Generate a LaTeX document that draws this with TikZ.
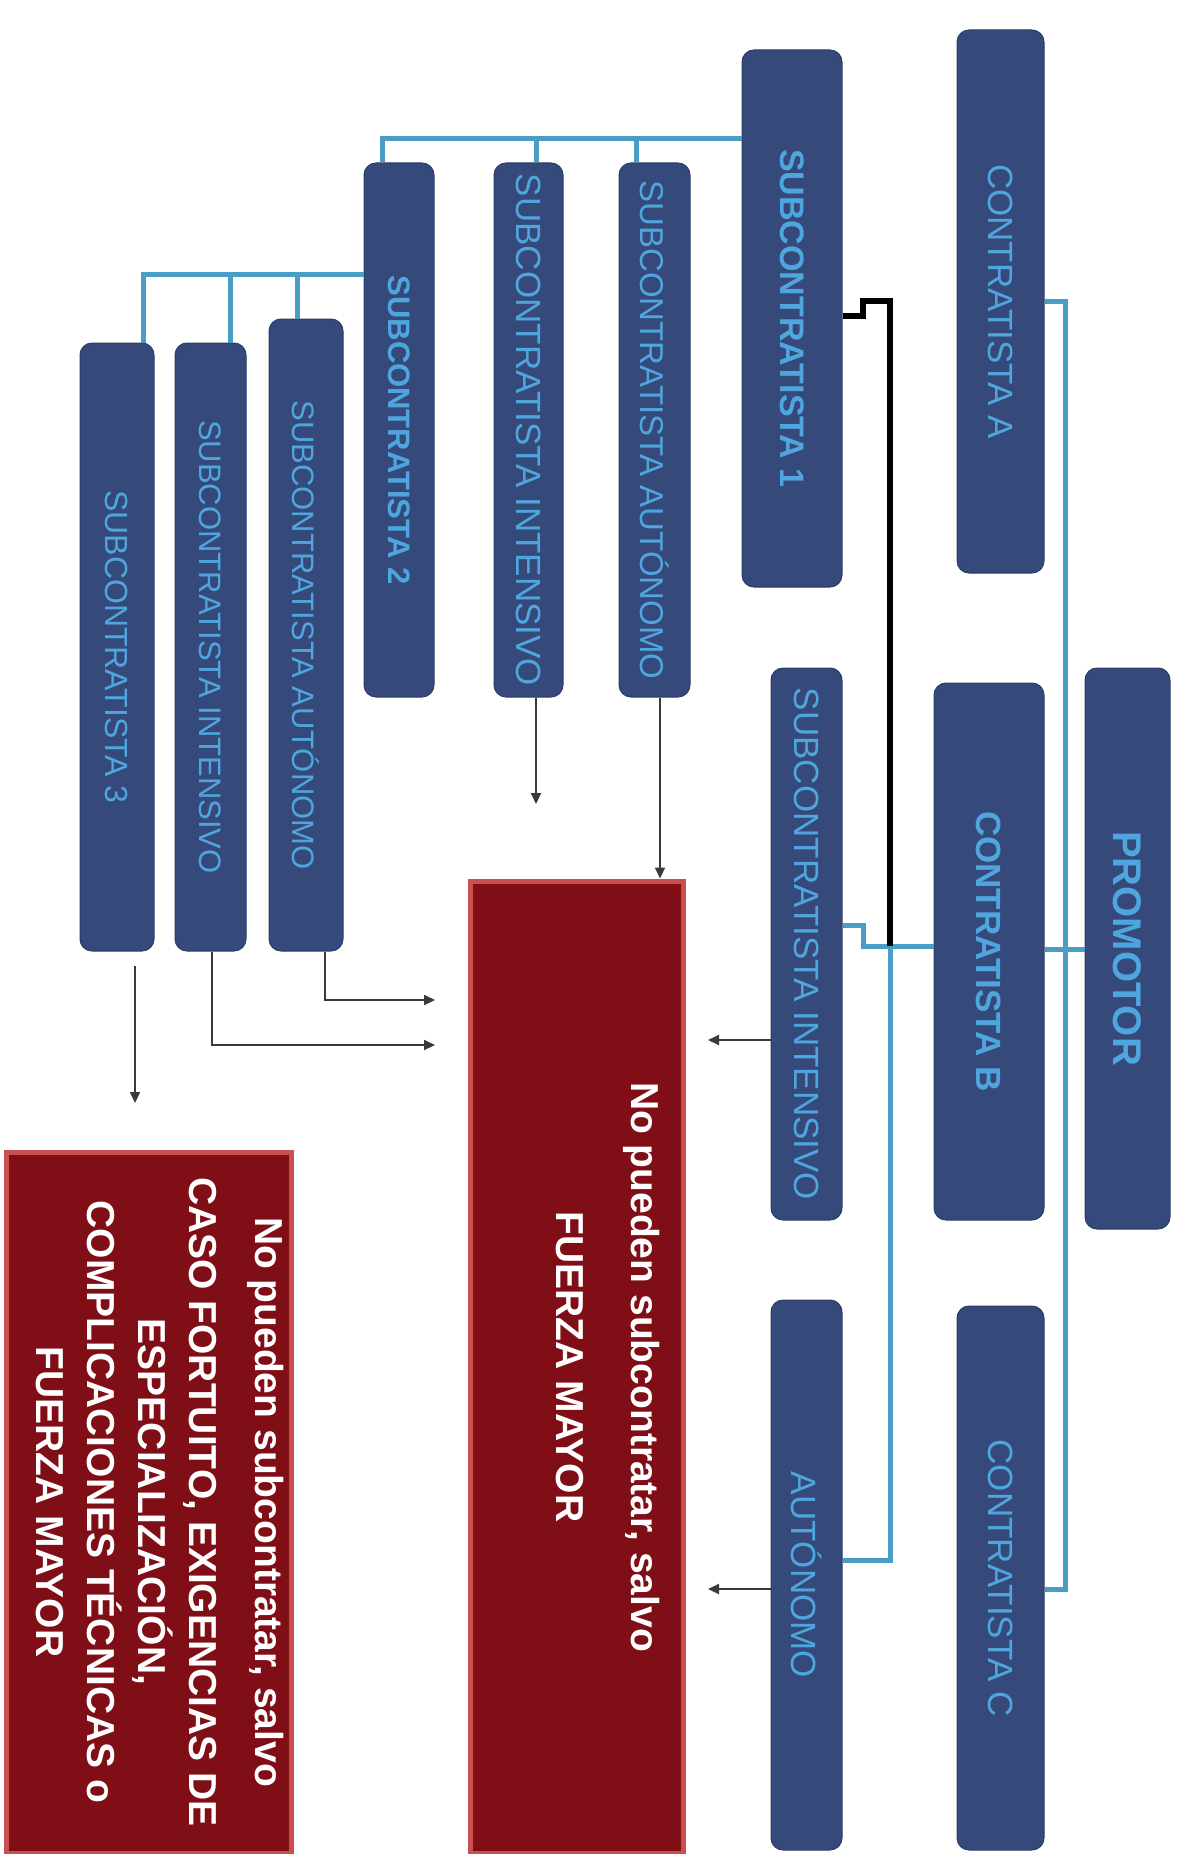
\documentclass[tikz,border=0pt]{standalone}
\usepackage{fontspec}
\setmainfont{Liberation Sans}
\usetikzlibrary{arrows.meta}
\definecolor{boxblue}{HTML}{354A7B}
\definecolor{boxedge}{HTML}{2A3C68}
\definecolor{txtblue}{HTML}{4FA6DE}
\definecolor{linkblue}{HTML}{4A9DC5}
\definecolor{redfill}{HTML}{800E17}
\definecolor{rededge}{HTML}{C9504E}
\definecolor{arrowgray}{HTML}{3A3A3A}
\tikzset{
  bbox/.style={rectangle, rounded corners=12pt, fill=boxblue, draw=boxedge, line width=1pt, inner sep=0pt, text=txtblue},
  rbox/.style={rectangle, fill=redfill, draw=rededge, line width=5pt, inner sep=0pt},
  link/.style={draw=linkblue, line width=5pt},
  blink/.style={draw=black, line width=6pt},
  arr/.style={draw=arrowgray, line width=2pt, -{Triangle[length=11pt,width=10pt]}},
  rtext/.style={text=white, align=center, rotate=-90, inner sep=0pt},
  fA/.style={font=\fontsize{35}{42}\selectfont},
  fAb/.style={font=\fontsize{35}{42}\selectfont\bfseries},
  fC/.style={font=\fontsize{31}{38}\selectfont},
}
\begin{document}
\begin{tikzpicture}[x=1pt,y=-1pt]
\useasboundingbox (0,0) rectangle (1182,1854);
% right column
\node[bbox, fA, minimum width=87, minimum height=543] (ca) at (1000.5,301.5) {\rotatebox{-90}{CONTRATISTA A}};
\node[bbox, fAb, minimum width=110, minimum height=537] (cb) at (989,951.5) {\rotatebox{-90}{CONTRATISTA B}};
\node[bbox, fA, minimum width=87, minimum height=544] (cc) at (1000.5,1578) {\rotatebox{-90}{CONTRATISTA C}};
\node[bbox, font=\fontsize{40}{48}\selectfont\bfseries, minimum width=85, minimum height=561] (prom) at (1127.5,948.5) {\rotatebox{-90}{PROMOTOR}};
% second column
\node[bbox, font=\fontsize{34}{40}\selectfont\bfseries, minimum width=100, minimum height=537] (s1) at (792,318.5) {\rotatebox{-90}{SUBCONTRATISTA 1}};
\node[bbox, fA, minimum width=71, minimum height=552] (si2) at (806.5,944) {\rotatebox{-90}{SUBCONTRATISTA INTENSIVO}};
\node[bbox, fA, minimum width=71, minimum height=550] (aut) at (806.5,1575) {\rotatebox{-90}{AUTÓNOMO}};
% third column
\node[bbox, font=\fontsize{33}{40}\selectfont, minimum width=71, minimum height=534] (sa3) at (654.5,430) {\rotatebox{-90}{SUBCONTRATISTA AUTÓNOMO}};
\node[bbox, fA, minimum width=69, minimum height=534] (si3) at (528.5,430) {\rotatebox{-90}{SUBCONTRATISTA INTENSIVO}};
\node[bbox, font=\fontsize{31}{38}\selectfont\bfseries, minimum width=70, minimum height=534] (s2) at (399,430) {\rotatebox{-90}{SUBCONTRATISTA 2}};
% fourth column
\node[bbox, fC, minimum width=74, minimum height=632] (sa4) at (306,635) {\rotatebox{-90}{SUBCONTRATISTA AUTÓNOMO}};
\node[bbox, fC, minimum width=71, minimum height=608] (si4) at (210.5,647) {\rotatebox{-90}{SUBCONTRATISTA INTENSIVO}};
\node[bbox, font=\fontsize{32}{38}\selectfont, minimum width=74, minimum height=608] (s3) at (117,647) {\rotatebox{-90}{SUBCONTRATISTA 3}};
% red boxes
\node[rbox, minimum width=213, minimum height=972] (r1) at (576.5,1367) {};
\node[rtext, font=\fontsize{39}{46}\selectfont\bfseries] (r1t) at (608,1367) {No pueden subcontratar, salvo\\[29pt]FUERZA MAYOR};
\node[rbox, minimum width=285, minimum height=701] (r2) at (148.5,1502.5) {};
\node[rtext, font=\fontsize{39}{51}\selectfont\bfseries] (r2t) at (160,1502) {No pueden subcontratar, salvo\\[15pt]CASO FORTUITO, EXIGENCIAS DE\\ESPECIALIZACIÓN,\\COMPLICACIONES TÉCNICAS o\\FUERZA MAYOR};
% coordinates
\coordinate (busT) at (1065,301);
\coordinate (busB) at (1065,1589);
\coordinate (kB) at (890,946);
\coordinate (kS) at (863,946);
\coordinate (kS2) at (863,925);
\coordinate (kT) at (890,301);
\coordinate (kT2) at (863,301);
\coordinate (kT3) at (863,316);
\coordinate (kA) at (890,1560);
\coordinate (t1) at (382,139);
\coordinate (t2) at (143,274);
\coordinate (e1) at (536,804);
\coordinate (e2a) at (325,1000);
\coordinate (e2) at (435,1000);
\coordinate (e3a) at (212,1045);
\coordinate (e3) at (435,1045);
\coordinate (e4) at (135,1103);
\coordinate (e5) at (708,1040);
\coordinate (e6) at (708,1589);
% blue links: promotor
\draw[link] (ca.east |- busT) -- (busT) -- (busB) -- (cc.east |- busB);
\draw[link] (prom.west |- 0,949) -- (cb.east |- 0,949);
% contratista B links
\draw[link] (cb.west |- kB) -- (kS) -- (kS2) -- (si2.east |- kS2);
\draw[link] (kB) -- (kA) -- (aut.east |- kA);
\draw[blink] (kB) -- (kT) -- (kT2) -- (kT3) -- (s1.east |- kT3);
% subcontratista 1
\draw[link] (s1.west |- t1) -- (t1) -- (t1 |- s2.north);
\draw[link] (636,139) -- (636,0 |- sa3.north);
\draw[link] (536,139) -- (536,0 |- si3.north);
% subcontratista 2
\draw[link] (s2.west |- t2) -- (t2) -- (t2 |- s3.north);
\draw[link] (230,274) -- (230,0 |- si4.north);
\draw[link] (297,274) -- (297,0 |- sa4.north);
% arrows
\draw[arr] (e1 |- si3.south) -- (e1);
\draw[arr] (660,0 |- sa3.south) -- (660,0 |- r1.north);
\draw[arr] (e2a |- sa4.south) -- (e2a) -- (e2);
\draw[arr] (e3a |- si4.south) -- (e3a) -- (e3);
\draw[arr] ([yshift=-14pt]e4 |- s3.south) -- (e4);
\draw[arr] (si2.west |- e5) -- (e5);
\draw[arr] (aut.west |- e6) -- (e6);
\end{tikzpicture}
\end{document}
